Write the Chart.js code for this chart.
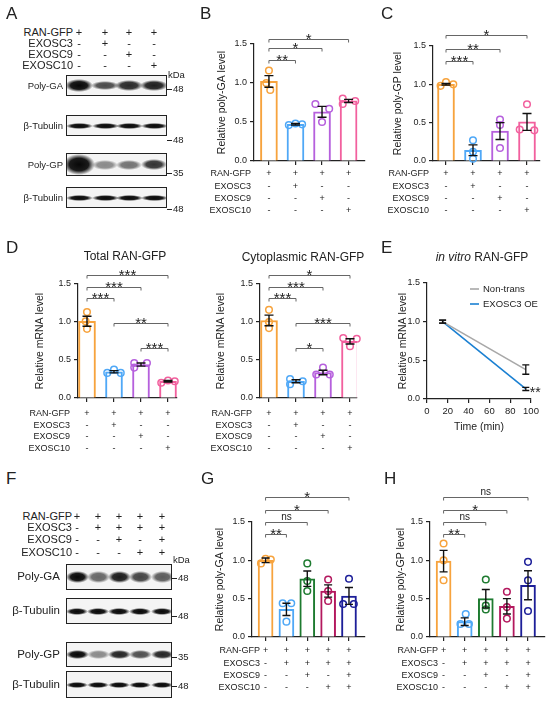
<!DOCTYPE html>
<html>
<head>
<meta charset="utf-8">
<script src="https://cdn.jsdelivr.net/npm/chart.js@4.4.1/dist/chart.umd.min.js"></script>
<style>
  body { margin:0; width:550px; height:707px; position:relative; overflow:hidden; background:#fff;
         font-family:"Liberation Sans", Arial, sans-serif; color:#222; }
  canvas { position:absolute; }
  .t { position:absolute; white-space:nowrap; line-height:1; }
  .box { position:absolute; border:1.2px solid #222; background:#f4f4f4; box-sizing:border-box; overflow:hidden; }
  .band { position:absolute; }
</style>
</head>
<body>
<canvas id="cB"></canvas>
<canvas id="cC"></canvas>
<canvas id="cD1"></canvas>
<canvas id="cD2"></canvas>
<canvas id="cE"></canvas>
<canvas id="cG"></canvas>
<canvas id="cH"></canvas>
<script>
// ---------- data ----------
const rowNames = ['RAN-GFP', 'EXOSC3', 'EXOSC9', 'EXOSC10'];
const signs4 = [['+', '+', '+', '+'], ['-', '+', '-', '-'], ['-', '-', '+', '-'], ['-', '-', '-', '+']];
const signs5 = [['+', '+', '+', '+', '+'], ['-', '+', '+', '+', '+'], ['-', '-', '+', '-', '+'], ['-', '-', '-', '+', '+']];
const yTicks = [0, 0.5, 1.0, 1.5];

// B  poly-GA
const meanB = [1.02, 0.47, 0.63, 0.77];
const semB = [0.075, 0.01, 0.07, 0.02];
const ptsB = [[1.16, 1.00, 0.91], [0.46, 0.48, 0.47], [0.73, 0.67, 0.50], [0.80, 0.73, 0.77]];
const sigB = [[0, 3, 1.56, '*'], [0, 2, 1.45, '*'], [0, 1, 1.30, '**']];

// C  poly-GP
const meanC = [1.00, 0.14, 0.39, 0.51];
const semC = [0.01, 0.07, 0.11, 0.11];
const ptsC = [[0.98, 1.03, 1.00], [0.27, 0.12, 0.03], [0.54, 0.47, 0.17], [0.74, 0.41, 0.40]];
const sigC = [[0, 3, 1.64, '*'], [0, 2, 1.46, '**'], [0, 1, 1.30, '***']];

// D  total / cytoplasmic mRNA
const meanD1 = [1.01, 0.345, 0.44, 0.22];
const semD1 = [0.065, 0.015, 0.02, 0.01];
const ptsD1 = [[1.13, 1.01, 0.91], [0.33, 0.375, 0.33], [0.46, 0.40, 0.46], [0.20, 0.23, 0.22]];
const sigD1 = [[0, 3, 1.62, '***'], [0, 2, 1.46, '***'], [0, 1, 1.315, '***'], [1, 3, 0.99, '**'], [2, 3, 0.66, '***']];

const meanD2 = [1.02, 0.22, 0.335, 0.745];
const semD2 = [0.07, 0.02, 0.03, 0.035];
const ptsD2 = [[1.16, 1.00, 0.92], [0.25, 0.18, 0.22], [0.31, 0.40, 0.31], [0.79, 0.68, 0.78]];
const sigD2 = [[0, 3, 1.62, '*'], [0, 2, 1.46, '***'], [0, 1, 1.315, '***'], [1, 3, 0.99, '***'], [1, 2, 0.66, '*']];

// E  in vitro decay
const timeE = [15, 95];
const nonTrans = [1.00, 0.38];
const nonTransErr = [0.02, 0.06];
const exosc3OE = [1.00, 0.13];
const exosc3OEErr = [0.02, 0.02];

// G  poly-GA rescue
const meanG = [1.00, 0.36, 0.76, 0.60, 0.535];
const semG = [0.03, 0.08, 0.10, 0.08, 0.11];
const ptsG = [[0.96, 1.02, 1.01], [0.44, 0.44, 0.20], [0.96, 0.73, 0.60], [0.75, 0.60, 0.47], [0.76, 0.43, 0.43]];
const sigG = [[0, 4, 1.82, '*'], [0, 3, 1.656, '*'], [0, 2, 1.503, 'ns'], [0, 1, 1.339, '**']];

// H  poly-GP rescue
const meanH = [0.99, 0.20, 0.50, 0.40, 0.675];
const semH = [0.14, 0.05, 0.12, 0.10, 0.19];
const ptsH = [[1.22, 1.00, 0.74], [0.30, 0.17, 0.17], [0.75, 0.41, 0.36], [0.59, 0.39, 0.24], [0.98, 0.74, 0.34]];
const sigH = [[0, 4, 1.82, 'ns'], [0, 3, 1.656, '*'], [0, 2, 1.503, 'ns'], [0, 1, 1.339, '**']];

// ---------- styles / layout ----------
const FONT = '"Liberation Sans", Arial, sans-serif';
Chart.defaults.font.family = FONT;
Chart.defaults.color = '#222';
const col4 = ['#F7A33D', '#4FA8F7', '#B660DD', '#F2609E'];
const col5 = ['#F7A33D', '#4FA8F7', '#1E7B30', '#B3185E', '#1D1F99'];
const jit4 = {
  B: [[0, -0.1, 0.05], [-0.25, 0, 0.25], [-0.25, 0.27, 0], [-0.22, -0.22, 0.25]],
  C: [[-0.2, 0, 0.27], [0, 0, 0], [0, 0, 0], [0, -0.27, 0.27]],
  D1: [[0, -0.05, 0], [-0.25, 0, 0.25], [-0.25, -0.25, 0.22], [-0.25, 0, 0.25]],
  D2: [[0, 0, 0], [-0.22, -0.22, 0.25], [-0.25, 0, 0.25], [-0.25, 0, 0.25]]
};
const jit5 = {
  G: [[-0.22, 0, 0.25], [-0.18, 0.23, 0], [0, 0, 0], [0, 0, 0], [0, -0.28, 0.23]],
  H: [[0, 0, 0], [0.05, -0.2, 0.2], [0, 0, 0], [0, 0, 0], [0, 0, 0]]
};

function place(text, x, y, size, align) {
  const d = document.createElement('div');
  d.className = 't';
  d.innerHTML = text;
  d.style.fontSize = size + 'px';
  d.style.top = (y - size / 2) + 'px';
  if (align === 'right') d.style.right = (550 - x) + 'px';
  else if (align === 'center') { d.style.left = (x - 100) + 'px'; d.style.width = '200px'; d.style.textAlign = 'center'; }
  else d.style.left = x + 'px';
  document.body.appendChild(d);
  return d;
}

function setCanvas(id, c) {
  const cv = document.getElementById(id);
  cv.width = c.w; cv.height = c.h;
  cv.style.left = c.x + 'px'; cv.style.top = c.y + 'px';
  cv.style.width = c.w + 'px'; cv.style.height = c.h + 'px';
  return cv;
}

function yScale(title, width) {
  return {
    min: 0, max: 1.5,
    afterBuildTicks: s => { s.ticks = yTicks.map(v => ({ value: v })); },
    ticks: { callback: v => v.toFixed(1), font: { size: 9 }, color: '#222', padding: 3 },
    grid: { drawOnChartArea: false, tickLength: 4, color: '#222', lineWidth: 1.2 },
    border: { color: '#222', width: 1.2 },
    title: { display: true, text: title, font: { size: 10.5 }, color: '#222', padding: 0 },
    afterFit: s => { s.width = width; }
  };
}

function drawErr(ctx, px, y, m, e, cap) {
  const hi = y.getPixelForValue(m + e), lo = y.getPixelForValue(m - e);
  ctx.beginPath();
  ctx.moveTo(px, hi); ctx.lineTo(px, lo);
  ctx.moveTo(px - cap, hi); ctx.lineTo(px + cap, hi);
  ctx.moveTo(px - cap, lo); ctx.lineTo(px + cap, lo);
  ctx.stroke();
}

function barPanel(id, p) {
  const c = p.canvas, a = p.area;
  const cv = setCanvas(id, c);
  const n = p.means.length;
  const unit = (p.lastX - p.firstX) / (n - 1);
  const xmin = (a.l - p.firstX) / unit, xmax = (n - 1) + (a.r - p.lastX) / unit;
  const titleLeft = p.titleX - 6.3;
  const idx = p.means.map((_, i) => i);

  const datasets = [{
    type: 'bar', data: p.means.map((m, i) => ({ x: i, y: m })),
    backgroundColor: '#fff', borderColor: p.colors, borderWidth: 2,
    barThickness: p.barW, borderSkipped: 'start', order: 2
  }];
  p.pts.forEach((g, i) => datasets.push({
    type: 'scatter', data: g.map((v, k) => ({ x: i + p.jit[i][k], y: v })),
    pointBorderColor: p.colors[i], pointBackgroundColor: 'rgba(255,255,255,0)',
    pointRadius: 3.3, pointBorderWidth: 1.5, order: 1, clip: false
  }));

  const extras = {
    id: 'extras',
    afterDatasetsDraw(chart) {
      const { ctx, scales: { x, y } } = chart;
      ctx.save();
      ctx.strokeStyle = '#111'; ctx.lineWidth = 1.4;
      p.means.forEach((m, i) => drawErr(ctx, x.getPixelForValue(i), y, m, p.sem[i], p.cap));
      // significance brackets
      p.sig.forEach(([i0, i1, v, lab]) => {
        const x0 = x.getPixelForValue(i0), x1 = x.getPixelForValue(i1);
        const yy = Math.round(y.getPixelForValue(v)) + 0.5;
        ctx.strokeStyle = '#666'; ctx.lineWidth = 1;
        ctx.beginPath();
        ctx.moveTo(x0, yy + 3); ctx.lineTo(x0, yy); ctx.lineTo(x1, yy); ctx.lineTo(x1, yy + 3);
        ctx.stroke();
        const star = lab.indexOf('*') >= 0;
        ctx.fillStyle = '#222';
        ctx.font = (star ? '15px ' : '10px ') + FONT;
        ctx.textAlign = 'center'; ctx.textBaseline = 'alphabetic';
        ctx.fillText(lab, (x0 + x1) / 2, star ? yy + 4.5 : yy - 3);
      });
      // treatment table
      ctx.font = '9px ' + FONT; ctx.fillStyle = '#222'; ctx.textBaseline = 'middle';
      rowNames.forEach((name, r) => {
        const yy = p.rowY[r] - c.y;
        ctx.textAlign = 'right';
        ctx.fillText(name, p.labelRight - c.x, yy);
        ctx.textAlign = 'center';
        p.signs[r].forEach((s, i) => ctx.fillText(s, x.getPixelForValue(i), yy));
      });
      ctx.restore();
    }
  };

  new Chart(cv, {
    type: 'bar',
    data: { datasets },
    plugins: [extras],
    options: {
      responsive: false, animation: false,
      plugins: { legend: { display: false }, tooltip: { enabled: false } },
      layout: { padding: { left: titleLeft - c.x, top: a.t - c.y, right: c.x + c.w - a.r, bottom: c.y + c.h - a.b - 6 } },
      scales: {
        x: {
          type: 'linear', min: xmin, max: xmax, offset: false,
          afterBuildTicks: s => { s.ticks = idx.map(v => ({ value: v })); },
          ticks: { display: false },
          grid: { offset: false, drawOnChartArea: false, tickLength: 4, color: '#222', lineWidth: 1.2 },
          border: { color: '#222', width: 1.2 },
          afterFit: s => { s.height = 6; }
        },
        y: yScale(p.yTitle, a.l - titleLeft)
      }
    }
  });
}

// ---------- bar panels ----------
barPanel('cB', { canvas: { x: 180, y: 0, w: 190, h: 225 }, area: { l: 254, r: 365, t: 44, b: 161 },
  firstX: 269, lastX: 349, titleX: 222, labelRight: 251, rowY: [174, 187, 199, 211], barW: 17, cap: 4.5,
  yTitle: 'Relative poly-GA level', means: meanB, sem: semB, pts: ptsB, sig: sigB, jit: jit4.B, colors: col4, signs: signs4 });
barPanel('cC', { canvas: { x: 370, y: 0, w: 180, h: 225 }, area: { l: 433, r: 540, t: 46, b: 161 },
  firstX: 446, lastX: 527, titleX: 398, labelRight: 429, rowY: [174, 187, 199, 211], barW: 17, cap: 4.5,
  yTitle: 'Relative poly-GP level', means: meanC, sem: semC, pts: ptsC, sig: sigC, jit: jit4.C, colors: col4, signs: signs4 });
barPanel('cD1', { canvas: { x: 0, y: 240, w: 190, h: 215 }, area: { l: 78, r: 177, t: 284, b: 398 },
  firstX: 87, lastX: 168, titleX: 40, labelRight: 70, rowY: [414, 426, 437, 449], barW: 17, cap: 4.5,
  yTitle: 'Relative mRNA level', means: meanD1, sem: semD1, pts: ptsD1, sig: sigD1, jit: jit4.D1, colors: col4, signs: signs4 });
barPanel('cD2', { canvas: { x: 190, y: 240, w: 185, h: 215 }, area: { l: 260, r: 357, t: 284, b: 398 },
  firstX: 269, lastX: 350, titleX: 221, labelRight: 252, rowY: [414, 426, 437, 449], barW: 17, cap: 4.5,
  yTitle: 'Relative mRNA level', means: meanD2, sem: semD2, pts: ptsD2, sig: sigD2, jit: jit4.D2, colors: col4, signs: signs4 });
barPanel('cG', { canvas: { x: 185, y: 470, w: 185, h: 237 }, area: { l: 252, r: 368, t: 522, b: 637 },
  firstX: 266, lastX: 352, titleX: 220, labelRight: 260, rowY: [651, 664, 676, 688], barW: 15, cap: 4,
  yTitle: 'Relative poly-GA level', means: meanG, sem: semG, pts: ptsG, sig: sigG, jit: jit5.G, colors: col5, signs: signs5 });
barPanel('cH', { canvas: { x: 370, y: 470, w: 180, h: 237 }, area: { l: 430, r: 548, t: 522, b: 637 },
  firstX: 444, lastX: 531, titleX: 401, labelRight: 438, rowY: [651, 664, 676, 688], barW: 15, cap: 4,
  yTitle: 'Relative poly-GP level', means: meanH, sem: semH, pts: ptsH, sig: sigH, jit: jit5.H, colors: col5, signs: signs5 });

// ---------- E line panel ----------
(function () {
  const c = { x: 375, y: 240, w: 175, h: 200 }, a = { l: 427, r: 531, t: 283, b: 399 };
  const cv = setCanvas('cE', c);
  const titleLeft = 403 - 6.3;
  const errs = [nonTransErr, exosc3OEErr];
  const extras = {
    id: 'extrasE',
    afterDatasetsDraw(chart) {
      const { ctx, scales: { x, y } } = chart;
      ctx.save();
      ctx.strokeStyle = '#111'; ctx.lineWidth = 1.3;
      chart.data.datasets.forEach((ds, k) => ds.data.forEach((pt, i) => drawErr(ctx, x.getPixelForValue(pt.x), y, pt.y, errs[k][i], 3.5)));
      // legend
      ctx.font = '9.5px ' + FONT; ctx.textBaseline = 'middle'; ctx.textAlign = 'left';
      chart.data.datasets.forEach((ds, k) => {
        const ly = 289 - c.y + k * 15, lx = 470 - c.x;
        ctx.strokeStyle = ds.borderColor; ctx.lineWidth = 1.6;
        ctx.beginPath(); ctx.moveTo(lx, ly); ctx.lineTo(lx + 9, ly); ctx.stroke();
        ctx.fillStyle = '#222'; ctx.fillText(ds.label, lx + 13, ly);
      });
      ctx.font = '14px ' + FONT; ctx.textBaseline = 'alphabetic';
      ctx.fillText('**', x.getPixelForValue(timeE[1]) + 4, y.getPixelForValue(exosc3OE[1]) + 8);
      ctx.restore();
    }
  };
  new Chart(cv, {
    type: 'line',
    data: {
      datasets: [
        { label: 'Non-trans', data: timeE.map((t, i) => ({ x: t, y: nonTrans[i] })), borderColor: '#a8a8a8', borderWidth: 1.6, pointRadius: 0 },
        { label: 'EXOSC3 OE', data: timeE.map((t, i) => ({ x: t, y: exosc3OE[i] })), borderColor: '#1b80d2', borderWidth: 1.6, pointRadius: 0 }
      ]
    },
    plugins: [extras],
    options: {
      responsive: false, animation: false,
      plugins: { legend: { display: false }, tooltip: { enabled: false } },
      layout: { padding: { left: titleLeft - c.x, top: a.t - c.y, right: c.x + c.w - a.r, bottom: c.y + c.h - a.b - 34.3 } },
      scales: {
        x: {
          type: 'linear', min: 0, max: 100,
          ticks: { stepSize: 20, font: { size: 9.5 }, color: '#222', padding: 3, maxRotation: 0, minRotation: 0, autoSkip: false },
          grid: { drawOnChartArea: false, tickLength: 4, color: '#222', lineWidth: 1.2 },
          border: { color: '#222', width: 1.2 },
          title: { display: true, text: 'Time (min)', font: { size: 10.5 }, color: '#222', padding: 0 },
          afterFit: s => { s.height = 34.3; }
        },
        y: yScale('Relative mRNA level', a.l - titleLeft)
      }
    }
  });
})();

// ---------- western blots (A, F) ----------
function blot(cfg) {
  rowNames.forEach((name, r) => {
    place(name, cfg.labelRight, cfg.rowY[r], cfg.fs, 'right');
    cfg.signs[r].forEach((s, i) => place(s, cfg.lanes[i], cfg.rowY[r], cfg.fs, 'center'));
  });
  place('kDa', cfg.kdaX, cfg.kdaY, 9.5, 'left');
  cfg.strips.forEach(st => {
    const b = document.createElement('div');
    b.className = 'box';
    Object.assign(b.style, { left: cfg.boxX + 'px', top: st.y + 'px', width: cfg.boxW + 'px', height: st.h + 'px' });
    document.body.appendChild(b);
    st.ints.forEach((al, i) => {
      const w = st.bw * (st.gw ? st.gw[i] : 1), h = st.bh * (st.gh ? st.gh[i] : 1);
      const band = document.createElement('div');
      band.className = 'band';
      Object.assign(band.style, {
        left: (cfg.lanes[i] - cfg.boxX - w / 2 - 1) + 'px', top: (st.h / 2 - h / 2 - 1) + 'px',
        width: w + 'px', height: h + 'px',
        background: `radial-gradient(closest-side, rgba(8,8,8,${al}) 0%, rgba(8,8,8,${al * 0.92}) 60%, rgba(8,8,8,0) 100%)`
      });
      b.appendChild(band);
    });
    place(st.label, cfg.nameRight, st.y + st.h / 2, cfg.nameFs, 'right');
    const m = document.createElement('div');
    Object.assign(m.style, { position: 'absolute', left: (cfg.boxX + cfg.boxW) + 'px', top: st.kdaY + 'px', width: '5px', height: '1px', background: '#222' });
    document.body.appendChild(m);
    place(st.kda, cfg.boxX + cfg.boxW + 6, st.kdaY, 9.5, 'left');
  });
}

blot({
  labelRight: 73, rowY: [32, 43, 54, 65], lanes: [79, 105, 129, 154], fs: 11, signs: signs4,
  boxX: 66, boxW: 101, kdaX: 168, kdaY: 75, nameRight: 63, nameFs: 9.5,
  strips: [
    { label: 'Poly-GA', y: 75, h: 21, kda: '48', kdaY: 89, ints: [1, 0.72, 0.86, 0.9], bw: 28, bh: 11, gh: [1.1, 0.9, 1, 1] },
    { label: 'β-Tubulin', y: 115, h: 21, kda: '48', kdaY: 140, ints: [1, 1, 1, 1], bw: 27, bh: 6 },
    { label: 'Poly-GP', y: 153, h: 23, kda: '35', kdaY: 173, ints: [1, 0.45, 0.55, 0.82], bw: 26, bh: 10, gw: [1.2, 1, 1, 1], gh: [2.1, 1, 1, 1.1] },
    { label: 'β-Tubulin', y: 187, h: 21, kda: '48', kdaY: 209, ints: [1, 1, 1, 1], bw: 27, bh: 6 }
  ]
});

blot({
  labelRight: 72, rowY: [516, 527, 539, 552], lanes: [77, 98, 119, 140, 162], fs: 11, signs: signs5,
  boxX: 66, boxW: 106, kdaX: 173, kdaY: 560, nameRight: 60, nameFs: 11.5,
  strips: [
    { label: 'Poly-GA', y: 564, h: 26, kda: '48', kdaY: 578, ints: [1, 0.6, 0.92, 0.75, 0.65], bw: 23, bh: 12 },
    { label: 'β-Tubulin', y: 598, h: 26, kda: '48', kdaY: 616, ints: [1, 1, 1, 1, 1], bw: 22, bh: 7 },
    { label: 'Poly-GP', y: 642, h: 25, kda: '35', kdaY: 657, ints: [1, 0.45, 0.88, 0.7, 0.88], bw: 23, bh: 9 },
    { label: 'β-Tubulin', y: 671, h: 27, kda: '48', kdaY: 686, ints: [1, 1, 1, 1, 1], bw: 22, bh: 6 }
  ]
});

// ---------- panel letters and titles ----------
[['A', 6, 5], ['B', 200, 5], ['C', 381, 5], ['D', 6, 239], ['E', 381, 239], ['F', 6, 470], ['G', 201, 470], ['H', 384, 470]]
  .forEach(([l, x, y]) => place(l, x, y + 8.5, 17, 'left'));
place('Total RAN-GFP', 125, 256, 12, 'center');
place('Cytoplasmic RAN-GFP', 303, 257, 12, 'center');
place('<i>in vitro</i> RAN-GFP', 482, 257, 12, 'center');
</script>
</body>
</html>
